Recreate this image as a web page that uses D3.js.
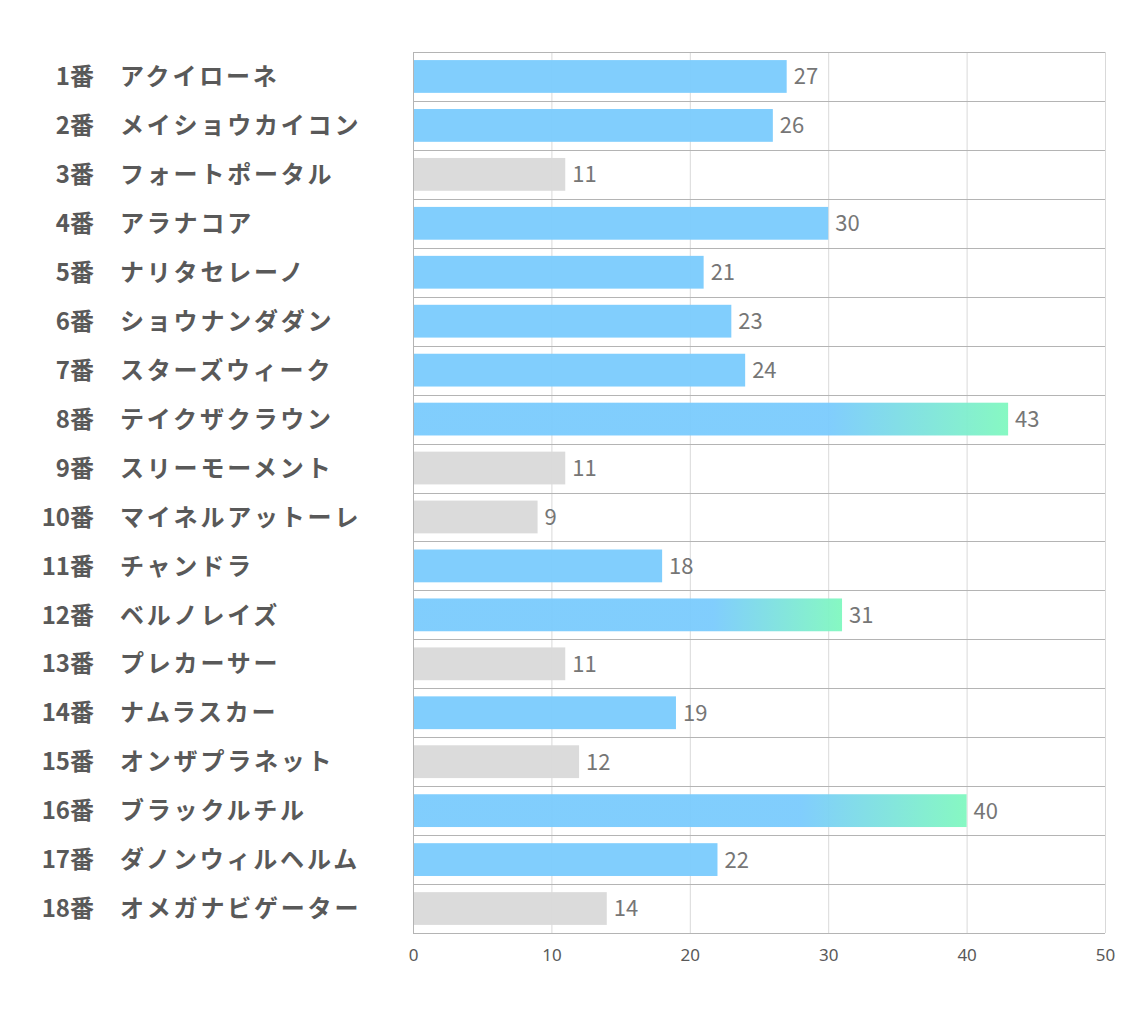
<!DOCTYPE html>
<html>
<head>
<meta charset="utf-8">
<script src="https://cdn.jsdelivr.net/npm/d3@7"></script>
<style>
  body { margin: 0; background: #fff; }
  text { font-family: "Noto Sans CJK JP", "Noto Sans", sans-serif; }
</style>
</head>
<body>
<svg id="chart" width="1134" height="1020"></svg>
<script>
// data
const nums = ["1番","2番","3番","4番","5番","6番","7番","8番","9番","10番","11番","12番","13番","14番","15番","16番","17番","18番"];
const names = ["アクイローネ","メイショウカイコン","フォートポータル","アラナコア","ナリタセレーノ","ショウナンダダン","スターズウィーク","テイクザクラウン","スリーモーメント","マイネルアットーレ","チャンドラ","ベルノレイズ","プレカーサー","ナムラスカー","オンザプラネット","ブラックルチル","ダノンウィルヘルム","オメガナビゲーター"];
const scores = [27,26,11,30,21,23,24,43,11,9,18,31,11,19,12,40,22,14];
// b = blue, g = gray, t = top (gradient)
const kinds = ["b","b","g","b","b","b","b","t","g","g","b","t","g","b","g","t","b","g"];
const ticks = [0,10,20,30,40,50];

const svg = d3.select("#chart");
const pl = 413, pr = 1105, pt = 52, pb = 933;

const x = d3.scaleLinear().domain([0, 50]).range([pl, pr]);
const y = d3.scaleBand().domain(d3.range(nums.length)).range([pt, pb]).paddingInner(0.33).paddingOuter(0.165);

const defs = svg.append("defs");
const fills = { b: "#7acbfd", g: "#d9d9d9" };

// vertical grid
svg.append("g").selectAll("line").data(ticks).enter().append("line")
  .attr("x1", d => x(d) + 0.5).attr("x2", d => x(d) + 0.5)
  .attr("y1", pt).attr("y2", pb)
  .attr("stroke", "#d9d9d9").attr("stroke-width", 1);

// row separators
const rowStep = (pb - pt) / nums.length;
svg.append("g").selectAll("line").data(d3.range(nums.length + 1)).enter().append("line")
  .attr("x1", pl).attr("x2", pr)
  .attr("y1", d => Math.round(pt + d * rowStep) + 0.5).attr("y2", d => Math.round(pt + d * rowStep) + 0.5)
  .attr("stroke", "#b4b4b4").attr("stroke-width", 1);

svg.append("line").attr("x1", pl + 0.5).attr("x2", pl + 0.5).attr("y1", pt).attr("y2", pb)
  .attr("stroke", "#b4b4b4");

// bars
scores.forEach((v, i) => {
  let fill = fills[kinds[i]];
  if (kinds[i] === "t") {
    const gid = "grad" + i;
    const gr = defs.append("linearGradient").attr("id", gid)
      .attr("gradientUnits", "userSpaceOnUse")
      .attr("x1", x(0)).attr("x2", x(v)).attr("y1", 0).attr("y2", 0);
    gr.append("stop").attr("offset", 0.7).attr("stop-color", "#7acbfd");
    gr.append("stop").attr("offset", 1).attr("stop-color", "#80f8bf");
    fill = "url(#" + gid + ")";
  }
  svg.append("rect")
    .attr("x", x(0) + 1).attr("y", y(i))
    .attr("width", x(v) - x(0) - 1).attr("height", y.bandwidth())
    .attr("fill", fill).attr("fill-opacity", 0.95);
});

// value labels
svg.append("g").selectAll("text").data(scores).enter().append("text")
  .attr("x", d => x(d) + 7)
  .attr("y", (d, i) => y(i) + y.bandwidth() / 2)
  .attr("dy", "0.36em")
  .attr("font-size", 22).attr("fill", "#767676")
  .text(d => d);

// left labels
svg.append("g").selectAll("text").data(nums).enter().append("text")
  .attr("x", 94)
  .attr("y", (d, i) => y(i) + y.bandwidth() / 2)
  .attr("dy", "0.36em").attr("text-anchor", "end")
  .attr("font-size", 24).attr("font-weight", "bold").attr("fill", "#595959")
  .text(d => d);

svg.append("g").selectAll("text").data(names).enter().append("text")
  .attr("x", 120)
  .attr("y", (d, i) => y(i) + y.bandwidth() / 2)
  .attr("dy", "0.36em")
  .attr("font-size", 24).attr("font-weight", "bold").attr("fill", "#595959")
  .attr("letter-spacing", 2.8)
  .text(d => d);

// x axis ticks
const ax = svg.append("g").attr("transform", `translate(0,${pb})`)
  .call(d3.axisBottom(x).tickValues(ticks).tickSize(0).tickPadding(16));
ax.select(".domain").remove();
ax.attr("font-size", null).attr("font-family", null);
ax.selectAll("text")
  .style("font-family", "\"Liberation Sans Narrow\", \"Noto Sans\", sans-serif")
  .style("font-size", "17px").attr("fill", "#595959");
</script>
</body>
</html>
